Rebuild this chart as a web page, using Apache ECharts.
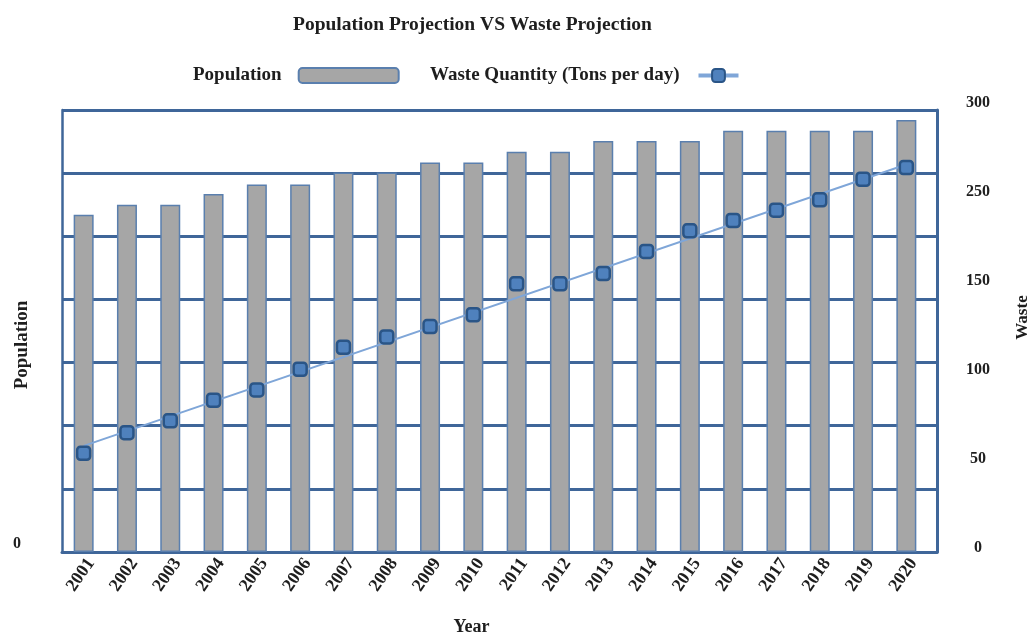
<!DOCTYPE html>
<html><head><meta charset="utf-8">
<script src="https://cdn.jsdelivr.net/npm/echarts@6/dist/echarts.min.js"></script>
<style>html,body{margin:0;padding:0;background:#fff}#c{width:1033px;height:633px}</style>
</head><body><div id="c"></div>
<script>
// ---- data ----
const years = ['2001','2002','2003','2004','2005','2006','2007','2008','2009','2010',
               '2011','2012','2013','2014','2015','2016','2017','2018','2019','2020'];
const population = [26700, 27500, 27500, 28350, 29100, 29100, 30050, 30050, 30850, 30850,
                    31700, 31700, 32550, 32550, 32550, 33350, 33350, 33350, 33350, 34200];
const waste = [67, 81, 89, 103, 110, 124, 139, 146, 153, 161,
               182, 182, 189, 204, 218, 225, 232, 239, 253, 261];
// straight trend line: values read at the first and last year
const trendStart = 72;
const trendEnd = 263;
const rightTickLabels = ['0', '50', '100', '150', '250', '300'];

const trend = years.map((y, i) => i === 0 ? trendStart : (i === years.length - 1 ? trendEnd : null));

const gridColor = '#3f6699';
const font = 'Liberation Serif';
const txt = '#1e1e1e';

const chart = echarts.init(document.getElementById('c'));
chart.setOption({
  backgroundColor: '#ffffff',
  animation: false,
  title: {
    text: 'Population Projection VS Waste Projection',
    left: 288, top: 10,
    textStyle: { fontFamily: font, fontSize: 19.5, fontWeight: 'bold', color: txt }
  },
  legend: [
    {
      data: ['Population'], left: 193, top: 66, align: 'right', padding: 0,
      itemWidth: 100, itemHeight: 15, selectedMode: false,
      textStyle: { fontFamily: font, fontSize: 19, fontWeight: 'bold', color: txt, padding: [0, 12, 0, 0] }
    },
    {
      data: [{ name: 'Waste Quantity (Tons per day)', lineStyle: { color: '#7fa6d8', width: 4, opacity: 1 } }],
      left: 430, top: 66, align: 'right', padding: 0,
      itemWidth: 40, itemHeight: 16, selectedMode: false,
      textStyle: { fontFamily: font, fontSize: 19, fontWeight: 'bold', color: txt, padding: [0, 14, 0, 0] }
    }
  ],
  grid: [
    { left: 62, right: 96, top: 110, bottom: 81, containLabel: false, outerBoundsMode: 'none' },
    { left: 62, right: 105, top: 110, bottom: 81, containLabel: false, outerBoundsMode: 'none' },
    { left: 62, right: 96, top: 103, bottom: 85, containLabel: false, outerBoundsMode: 'none' }
  ],
  xAxis: [
    {
      gridIndex: 0, type: 'value', min: 0, max: 1,
      axisLine: { show: true, lineStyle: { color: gridColor, width: 3 } },
      axisTick: { show: false }, axisLabel: { show: false }, splitLine: { show: false },
      name: 'Year', nameLocation: 'middle', nameGap: 66, nameMoveOverlap: false,
      nameTextStyle: { fontFamily: font, fontSize: 18, fontWeight: 'bold', color: txt, padding: [0, 56, 0, 0] }
    },
    {
      gridIndex: 1, type: 'category', data: years, boundaryGap: true,
      axisLine: { show: false }, axisTick: { show: false },
      axisLabel: { rotate: 55, margin: 3, verticalAlign: 'top', fontFamily: font, fontSize: 18, fontWeight: 'bold', color: txt }
    },
    { gridIndex: 2, type: 'value', show: false }
  ],
  yAxis: [
    {
      gridIndex: 0, type: 'value', min: 0, max: 35000, interval: 5000, position: 'left',
      name: 'Population', nameLocation: 'middle', nameGap: 30, nameMoveOverlap: false,
      nameTextStyle: { fontFamily: font, fontSize: 19, fontWeight: 'bold', color: txt, padding: [0, 28, 0, 0] },
      axisLine: { show: true, lineStyle: { color: gridColor, width: 2.5 } },
      axisTick: { show: false },
      splitLine: { show: true, lineStyle: { color: gridColor, width: 3 } },
      axisLabel: {
        formatter: v => (v === 0 ? '0' : ''), margin: 41, verticalAlign: 'bottom',
        fontFamily: font, fontSize: 16, fontWeight: 'bold', color: txt
      }
    },
    {
      gridIndex: 0, type: 'value', min: 0, max: 1, position: 'right',
      axisLine: { show: true, lineStyle: { color: gridColor, width: 3 } },
      axisTick: { show: false }, axisLabel: { show: false }, splitLine: { show: false }
    },
    { gridIndex: 1, type: 'value', min: 0, max: 35000, show: false },
    { gridIndex: 1, type: 'value', min: 0, max: 300, show: false },
    {
      gridIndex: 2, type: 'category', data: rightTickLabels, position: 'right', boundaryGap: false,
      axisLine: { show: false }, axisTick: { show: false }, splitLine: { show: false },
      axisLabel: { margin: 41, align: 'center', fontFamily: font, fontSize: 16, fontWeight: 'bold', color: txt },
      name: 'Waste', nameLocation: 'middle', nameGap: 77, nameMoveOverlap: false,
      nameTextStyle: { fontFamily: font, fontSize: 17, fontWeight: 'bold', color: txt, padding: [0, 0, 0, 16] }
    }
  ],
  series: [
    {
      name: 'Population', type: 'bar', xAxisIndex: 1, yAxisIndex: 2, data: population,
      barWidth: 20,
      itemStyle: { color: '#a6a6a6', borderColor: '#5a7fae', borderWidth: 1.5 }
    },
    {
      name: 'trend', type: 'line', xAxisIndex: 1, yAxisIndex: 3, data: trend,
      connectNulls: true, symbol: 'none', silent: true, z: 4,
      lineStyle: { color: '#7fa6d8', width: 2 }
    },
    {
      name: 'Waste Quantity (Tons per day)', type: 'line', xAxisIndex: 1, yAxisIndex: 3, data: waste,
      symbol: 'roundRect', symbolSize: 13, z: 5,
      lineStyle: { opacity: 0 },
      itemStyle: { color: '#4f81bd', borderColor: '#2a5587', borderWidth: 2.5 }
    }
  ]
});
</script>
</body></html>
